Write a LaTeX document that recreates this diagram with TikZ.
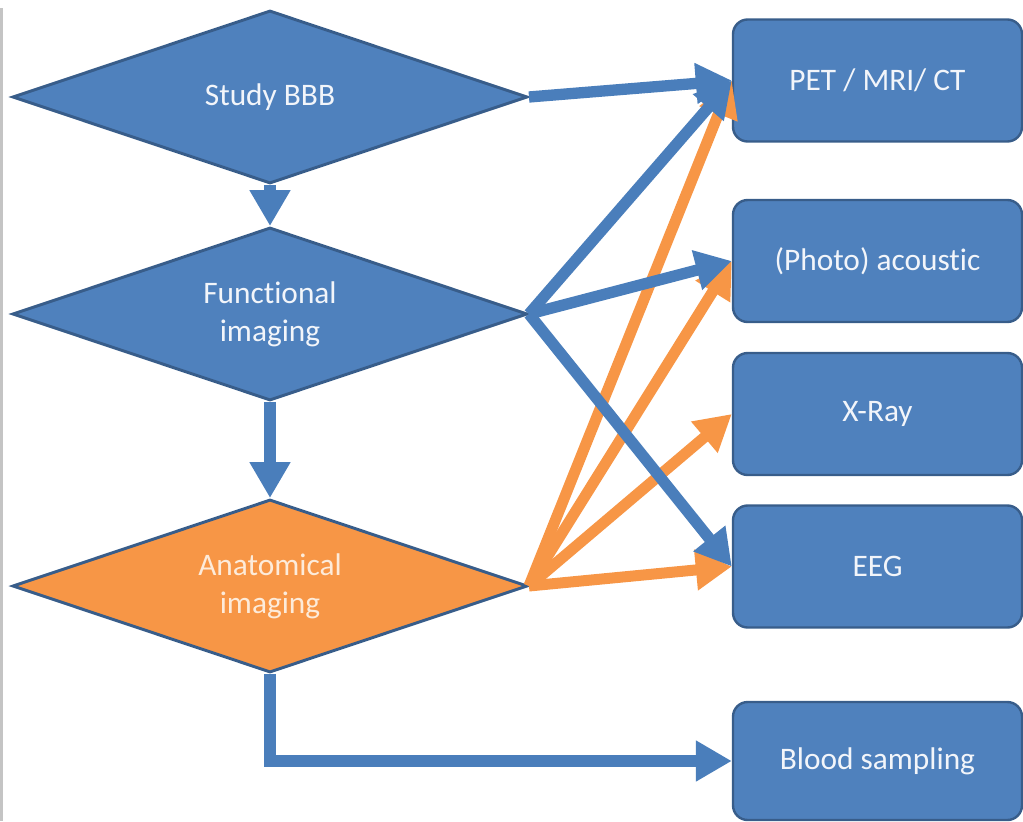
\documentclass[tikz,border=0pt]{standalone}
\usepackage{fontspec}
\setmainfont{Carlito}[Ligatures={NoCommon,NoRare,NoContextual}]
\usetikzlibrary{shapes.geometric,arrows.meta}
\definecolor{boxblue}{HTML}{4F81BD}
\definecolor{edgeblue}{HTML}{385D8A}
\definecolor{arrblue}{HTML}{4A7EBB}
\definecolor{arrorange}{HTML}{F79646}
\definecolor{txtlight}{HTML}{F2F5FA}
\definecolor{txtcream}{HTML}{FDEBDA}
\definecolor{sidegray}{HTML}{C4C4C4}
\begin{document}
\begin{tikzpicture}[x=0.75pt,y=-0.75pt,
  labelfont/.style={font=\fontsize{23.5}{28.5}\selectfont},
  decision/.style={diamond, shape aspect=2.98, minimum width=386.25pt,
    minimum height=129.75pt, inner sep=0pt, draw=edgeblue, line width=2.2pt,
    fill=boxblue, text=txtlight, align=center, labelfont},
  target/.style={rectangle, rounded corners=11pt, minimum width=216.75pt,
    minimum height=91.5pt, inner sep=0pt, draw=edgeblue, line width=1.8pt,
    fill=boxblue, text=txtlight, labelfont},
  bluearrow/.style={draw=arrblue, line width=8.5pt, line join=miter,
    -{Triangle[length=27pt,width=29pt]}},
  orangearrow/.style={draw=arrorange, line width=8.25pt,
    -{Triangle[length=27pt,width=29pt]}}
]
\useasboundingbox (0,0) rectangle (1023,821);
\draw[draw=sidegray, line width=2.2pt] (1.5,8) -- (1.5,821);

\node[decision] (study) at (270,97) {Study BBB};
\node[decision] (func) at (270,314) {Functional\\imaging};
\node[decision, fill=arrorange, text=txtcream] (anat) at (270,586) {Anatomical\\imaging};

\node[target] (pet) at (877.5,80.5) {PET / MRI/ CT};
\node[target] (photo) at (877.5,261) {(Photo) acoustic};
\node[target] (xray) at (877.5,414) {X-Ray};
\node[target] (eeg) at (877.5,566.5) {EEG};
\node[target, minimum height=88.5pt] (blood) at (877.5,761) {Blood sampling};

\draw[orangearrow] (anat.east) -- (pet.west);
\draw[orangearrow] (anat.east) -- (photo.west);
\draw[orangearrow] (anat.east) -- (xray.west);
\draw[orangearrow] (anat.east) -- (eeg.west);

\draw[bluearrow] (study.east) -- (pet.west);
\draw[bluearrow] (func.east) -- (pet.west);
\draw[bluearrow] (func.east) -- (photo.west);
\draw[bluearrow] (func.east) -- (eeg.west);
\draw[bluearrow] (study.south) -- (func.north);
\draw[bluearrow] (func.south) -- (anat.north);
\draw[bluearrow] (anat.south) |- (blood.west);
\end{tikzpicture}
\end{document}
